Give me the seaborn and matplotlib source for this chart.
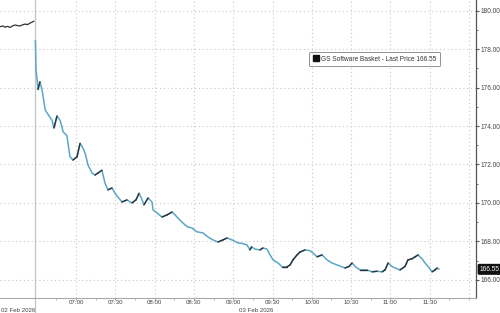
import numpy as np
import pandas as pd
import matplotlib
matplotlib.use("Agg")
import matplotlib.pyplot as plt
import seaborn as sns
from matplotlib.lines import Line2D
from matplotlib.ticker import FixedLocator

# ---- data (x = minutes after 07:00 on 03 Feb 2026; 02 Feb session compressed on the left)
prev_t = [-58, -56, -54.2, -52, -50.4, -48.5, -46.6, -44.5, -42.7, -40.8, -38.9, -37, -35.1, -33.5, -32.1]
prev_v = [179.16, 179.2, 179.14, 179.18, 179.12, 179.2, 179.25, 179.22, 179.2, 179.26, 179.3, 179.27, 179.35, 179.4, 179.45]

day_t = [-31, -30.5, -29.5, -29, -27.5, -26, -25, -23.5, -21, -18.3, -16.8, -14.5, -12.2, -10.7, -9.9,
         -6.9, -6.1, -4.6, -2.3, 0.8, 3.1, 5.3, 6.9, 9.2, 12.2, 14.5, 16.8, 19.8, 22.1, 24.4,
         27.5, 29.8, 32.1, 35.1, 38.9, 42.7, 45.8, 48.1, 49.6, 51.9, 55.0, 58.0, 58.8, 61.8, 65.6,
         69.5, 73.3, 75.6, 79.4, 83.2, 85.5, 88.5, 92.4, 97.0, 100.8, 104.6, 108.4, 112.2, 115.3, 119.1,
         123.7, 126.7, 130.5, 132.8, 134.0, 136.6, 140.5, 142.7, 145.8, 148.1, 150.4, 154.2, 157.3, 161.1, 163.4,
         165.6, 168.7, 171.0, 174.8, 178.6, 180.9, 184.0, 187.8, 191.6, 195.4, 199.2, 203.1, 205.3, 208.4, 210.7,
         213.0, 216.8, 222.1, 226.0, 229.8, 233.6, 235.9, 238.2, 241.2, 243.5, 247.3, 251.1, 253.4, 256.5, 258.8,
         261.1, 264.1, 266.4, 268.7, 271.8, 274.0, 275.6, 277.1]
day_v = [178.45, 176.9, 176.3, 175.9, 176.3, 175.9, 175.5, 174.83, 174.57, 174.3, 173.9, 174.52, 174.3, 173.95, 173.7,
         173.5, 173.1, 172.4, 172.23, 172.4, 173.1, 172.86, 172.6, 171.97, 171.56, 171.45, 171.56, 171.7, 171.04, 170.68,
         170.78, 170.5, 170.3, 170.05, 170.16, 170.0, 170.16, 170.5, 170.3, 169.9, 170.26, 170.05, 169.64, 169.48, 169.27,
         169.38, 169.53, 169.38, 169.1, 168.86, 168.75, 168.7, 168.5, 168.44, 168.23, 168.08, 167.97, 168.08, 168.18, 168.08,
         167.92, 167.9, 167.82, 167.56, 167.72, 167.6, 167.56, 167.66, 167.6, 167.3, 167.04, 166.88, 166.68, 166.68, 166.78,
         167.04, 167.3, 167.45, 167.56, 167.52, 167.4, 167.2, 167.3, 167.04, 166.88, 166.78, 166.68, 166.62, 166.7, 166.88,
         166.7, 166.52, 166.52, 166.42, 166.45, 166.42, 166.52, 166.88, 166.7, 166.62, 166.52, 166.7, 167.04, 167.1, 167.2,
         167.3, 167.1, 166.88, 166.7, 166.42, 166.52, 166.62, 166.55]

tick_pos = [0, 30, 60, 90, 120, 150, 180, 210, 240, 270]
tick_labels = ["07:00", "07:30", "08:00", "08:30", "09:00", "09:30", "10:00", "10:30", "11:00", "11:30"]
y_ticks = [166, 168, 170, 172, 174, 176, 178, 180]
last_price = 166.55
series_name = "GS Software Basket - Last Price"
day1_label = "02 Feb 2026"
day2_label = "03 Feb 2026"

# ---- build frames
prev_df = pd.DataFrame({"t": prev_t, "v": prev_v})
day_df = pd.DataFrame({"t": day_t, "v": day_v})
rows = []
for i in range(len(day_v) - 1):
    if day_v[i + 1] >= day_v[i]:
        rows.append((day_t[i], day_v[i], i))
        rows.append((day_t[i + 1], day_v[i + 1], i))
up_df = pd.DataFrame(rows, columns=["t", "v", "seg"])

sns.set_theme(style="white")
plt.rcParams["font.family"] = ["Liberation Sans", "DejaVu Sans"]

FS = 4.7
FSX = 4.4
TXT = "#444444"

fig = plt.figure(figsize=(5.0, 3.13), dpi=100)
ax = fig.add_axes([0.0, 15 / 313, 476 / 500, 298 / 313])
ax.set_facecolor("white")

grid_col = "#c8c8c8"
for yv in y_ticks:
    ax.axhline(yv, color=grid_col, lw=0.8, ls=(0, (1, 2.5)), zorder=0)
for xv in tick_pos + [300]:
    ax.axvline(xv, color=grid_col, lw=0.8, ls=(0, (1, 2.5)), zorder=0)

sep_x = -31.5
ax.axvline(sep_x, ymin=-15 / 298, ymax=1, color="#c4c4c4", lw=0.9, clip_on=False, zorder=1)

sns.lineplot(data=prev_df, x="t", y="v", ax=ax, color="#2b3238", lw=0.9, estimator=None, sort=False)
sns.lineplot(data=day_df, x="t", y="v", ax=ax, color="#5aa6c6", lw=1.1, estimator=None, sort=False)
sns.lineplot(data=up_df, x="t", y="v", units="seg", ax=ax, color="#2b3238", lw=1.0, estimator=None, sort=False)

ax.set_xlim(-58, 305.3)
ax.set_ylim(165.06, 180.55)
ax.set_xlabel("")
ax.set_ylabel("")

# spines
for s in ["top", "left"]:
    ax.spines[s].set_visible(False)
ax.spines["right"].set_color("#555555")
ax.spines["right"].set_linewidth(0.9)
ax.spines["bottom"].set_color("#aaaaaa")
ax.spines["bottom"].set_linewidth(0.8)

# axis ticks
ax.yaxis.tick_right()
ax.set_yticks(y_ticks)
ax.set_yticklabels([f"{v:.2f}" for v in y_ticks])
ax.yaxis.set_minor_locator(FixedLocator([165, 167, 169, 171, 173, 175, 177, 179]))
ax.tick_params(axis="y", which="major", direction="out", length=2.5, width=0.8, color="#555555",
               labelsize=FS, labelcolor=TXT, pad=1.0, right=True, left=False)
ax.tick_params(axis="y", which="minor", direction="out", length=1.5, width=0.6, color="#555555", right=True, left=False)

ax.set_xticks(tick_pos)
ax.set_xticklabels(tick_labels)
ax.xaxis.set_minor_locator(FixedLocator([-15, 15, 45, 75, 105, 135, 165, 195, 225, 255, 285, 300]))
ax.tick_params(axis="x", which="major", direction="out", length=1.5, width=0.6, color="#999999",
               labelsize=FSX, labelcolor=TXT, pad=0.3, bottom=True)
ax.tick_params(axis="x", which="minor", direction="out", length=1.5, width=0.5, color="#999999", bottom=True)

# date labels
fig.text(0.002, 0.0, day1_label, fontsize=FSX, color=TXT, ha="left", va="bottom")
fig.text(256 / 500, 0.0, day2_label, fontsize=FSX, color=TXT, ha="center", va="bottom")

# last price tag
ax.annotate(f"{last_price:.2f}", xy=(1.0, last_price), xycoords=("axes fraction", "data"),
            xytext=(2.6, 0), textcoords="offset points", ha="left", va="center",
            fontsize=FS, color="white", annotation_clip=False,
            bbox=dict(boxstyle="round,pad=0.2,rounding_size=0.15", fc="#111111", ec="#111111"))

# legend
handle = Line2D([0], [0], color="#111111", marker="s", markersize=3.8, lw=0, markeredgecolor="#111111")
leg = ax.legend([handle], [f"{series_name} {last_price:.2f}"], loc="upper left",
                bbox_to_anchor=(309 / 476, 1 - 52 / 298), fontsize=FS, frameon=True,
                handlelength=1.0, handletextpad=0.3, borderpad=0.55, borderaxespad=0, fancybox=True)
leg.get_frame().set_edgecolor("#777777")
leg.get_frame().set_linewidth(0.7)
for txt in leg.get_texts():
    txt.set_color("#333333")

fig.savefig("out.png", dpi=100, facecolor="white")
